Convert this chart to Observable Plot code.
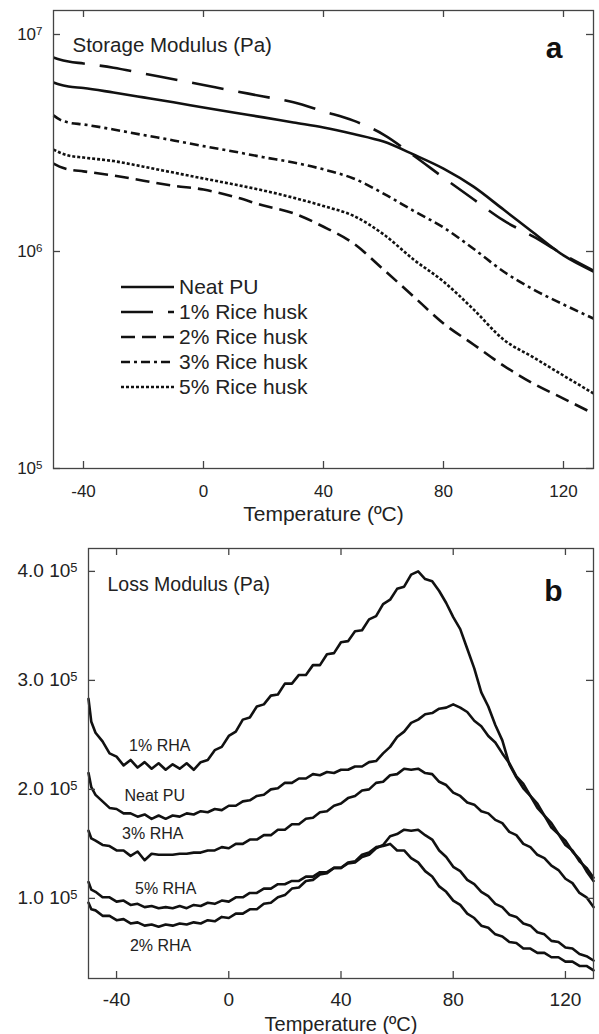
<!DOCTYPE html>
<html><head><meta charset="utf-8">
<script src="https://cdn.jsdelivr.net/npm/d3@7"></script>
<script src="https://cdn.jsdelivr.net/npm/@observablehq/plot@0.6"></script>
<style>
body{margin:0;background:#fff;font-family:"Liberation Sans",Arial,sans-serif;}
#wrap{position:relative;width:599px;height:1034px;overflow:hidden}
#wrap > svg, #wrap figure svg{display:block}
#legend{position:absolute;left:0;top:0}
</style></head><body><div id="wrap"></div>
<script>
// ---------- Panel a: storage modulus (Pa) ----------
const tempA = [-50,-48,-45,-40,-30,-20,-10,0,10,20,30,40,50,60,70,80,90,100,110,120,130];
const neatA = [6.01e6,5.88e6,5.76e6,5.67e6,5.40e6,5.13e6,4.87e6,4.61e6,4.37e6,4.15e6,3.93e6,3.73e6,3.48e6,3.21e6,2.80e6,2.41e6,1.99e6,1.56e6,1.22e6,9.59e5,8.09e5];
const rh1A  = [7.83e6,7.67e6,7.51e6,7.35e6,7.03e6,6.61e6,6.22e6,5.85e6,5.50e6,5.18e6,4.87e6,4.42e6,4.01e6,3.46e6,2.77e6,2.19e6,1.74e6,1.39e6,1.17e6,9.68e5,8.17e5];
const rh2A  = [2.54e6,2.46e6,2.39e6,2.34e6,2.24e6,2.12e6,2.01e6,1.93e6,1.79e6,1.63e6,1.50e6,1.30e6,1.09e6,8.26e5,6.21e5,4.66e5,3.73e5,2.98e5,2.46e5,2.10e5,1.79e5];
const rh3A  = [4.24e6,4.06e6,3.93e6,3.85e6,3.65e6,3.44e6,3.25e6,3.06e6,2.89e6,2.72e6,2.57e6,2.39e6,2.17e6,1.85e6,1.54e6,1.29e6,1.03e6,8.09e5,6.68e5,5.70e5,4.91e5];
const rh5A  = [2.95e6,2.86e6,2.77e6,2.71e6,2.61e6,2.46e6,2.31e6,2.17e6,2.04e6,1.91e6,1.77e6,1.62e6,1.46e6,1.20e6,9.19e5,7.27e5,5.41e5,3.93e5,3.25e5,2.68e5,2.22e5];
const seriesNamesA = ["Neat PU","1% Rice husk","2% Rice husk","3% Rice husk","5% Rice husk"];
const dashesA = [null,"32,15","14,7","9,4,3,4","3,2"];
const xTicks = [-40,0,40,80,120];
const xTickLabels = ["-40","0","40","80","120"];
const yTicksA = [1e5,1e6,1e7];
const yTickLabelsA = ["10\u2075","10\u2076","10\u2077"];

// ---------- Panel b: loss modulus (x 1e5 Pa) ----------
const tempB = [-50,-49,-47.5,-45,-42.5,-40,-37.5,-35,-32.5,-30,
  -27.5,-25,-22.5,-20,-17.5,-15,-12.5,-10,-7.5,-5,
  -2.5,0,2.5,5,7.5,10,12.5,15,17.5,20,
  22.5,25,27.5,30,32.5,35,37.5,40,42.5,45,
  47.5,50,52.5,55,57.5,60,62.5,65,67.5,70,
  72.5,75,77.5,80,82.5,85,87.5,90,92.5,95,
  97.5,100,102.5,105,107.5,110,112.5,115,117.5,120,
  122.5,125,127.5,130];
const rh1B = [2.83,2.62,2.52,2.44,2.33,2.30,2.22,2.27,2.20,2.25,
  2.19,2.24,2.18,2.23,2.19,2.24,2.18,2.25,2.27,2.36,
  2.39,2.49,2.53,2.64,2.66,2.76,2.78,2.86,2.87,2.97,
  2.97,3.05,3.05,3.14,3.14,3.24,3.25,3.35,3.36,3.45,
  3.46,3.56,3.59,3.70,3.74,3.84,3.86,3.97,4.00,3.93,
  3.91,3.82,3.71,3.58,3.47,3.29,3.11,2.89,2.76,2.59,
  2.45,2.23,2.11,2.01,1.94,1.83,1.76,1.65,1.59,1.49,
  1.44,1.34,1.28,1.19];
const neatB = [2.15,2.02,1.95,1.89,1.83,1.82,1.78,1.78,1.75,1.77,
  1.73,1.76,1.73,1.76,1.75,1.78,1.77,1.80,1.79,1.82,
  1.81,1.85,1.85,1.89,1.90,1.94,1.95,2.00,2.01,2.06,
  2.06,2.10,2.10,2.14,2.13,2.16,2.15,2.18,2.18,2.21,
  2.21,2.25,2.26,2.33,2.39,2.48,2.53,2.61,2.64,2.69,
  2.70,2.74,2.75,2.78,2.75,2.71,2.63,2.58,2.49,2.43,
  2.33,2.24,2.12,2.05,1.94,1.87,1.76,1.69,1.59,1.53,
  1.43,1.36,1.25,1.16];
const rh3B = [1.62,1.55,1.53,1.49,1.48,1.44,1.44,1.39,1.43,1.35,
  1.41,1.40,1.40,1.40,1.41,1.41,1.42,1.42,1.44,1.44,
  1.47,1.46,1.50,1.50,1.54,1.54,1.58,1.58,1.63,1.63,
  1.68,1.68,1.73,1.74,1.79,1.80,1.85,1.87,1.92,1.94,
  1.99,2.00,2.06,2.07,2.13,2.14,2.19,2.18,2.19,2.15,
  2.14,2.07,2.04,1.97,1.94,1.88,1.86,1.80,1.78,1.72,
  1.69,1.61,1.58,1.50,1.47,1.40,1.37,1.30,1.26,1.18,
  1.14,1.05,1.01,0.92];
const rh5B = [1.15,1.08,1.06,1.01,1.01,0.97,0.98,0.94,0.95,0.92,
  0.93,0.91,0.92,0.91,0.93,0.91,0.94,0.93,0.96,0.95,
  0.98,0.97,1.01,1.01,1.05,1.05,1.09,1.09,1.13,1.13,
  1.16,1.16,1.20,1.20,1.24,1.24,1.28,1.28,1.32,1.33,
  1.38,1.40,1.46,1.49,1.57,1.59,1.63,1.62,1.63,1.58,
  1.54,1.44,1.38,1.29,1.25,1.17,1.13,1.06,1.02,0.95,
  0.92,0.85,0.83,0.77,0.75,0.69,0.67,0.61,0.60,0.55,
  0.54,0.49,0.47,0.43];
const rh2B = [0.96,0.90,0.89,0.84,0.84,0.80,0.81,0.77,0.78,0.75,
  0.76,0.74,0.76,0.75,0.77,0.76,0.78,0.77,0.80,0.79,
  0.83,0.82,0.86,0.86,0.90,0.90,0.95,0.96,1.01,1.03,
  1.09,1.10,1.16,1.17,1.22,1.23,1.28,1.28,1.33,1.34,
  1.40,1.42,1.47,1.48,1.50,1.44,1.44,1.37,1.33,1.25,
  1.20,1.11,1.06,0.98,0.94,0.86,0.82,0.75,0.73,0.67,
  0.65,0.60,0.59,0.54,0.54,0.50,0.50,0.46,0.46,0.42,
  0.42,0.38,0.38,0.34];
const labelNamesB = ["1% RHA","Neat PU","3% RHA","5% RHA","2% RHA"];
const labelTempB = [-24.6,-26.4,-27.1,-22.5,-24.3];
const labelValB = [2.40,1.94,1.59,1.09,0.56];
const yTicksB = [1,2,3,4];
const yTickLabelsB = ["1.0 10\u2075","2.0 10\u2075","3.0 10\u2075","4.0 10\u2075"];

const FONT = '"Liberation Sans", Arial, Helvetica, sans-serif';
const INK = "#111";
const FRAME = "#444";

function rowsOf(temps, vals, name) { return temps.map((t, i) => ({t, v: vals[i], name})); }
const fmtX = d => xTickLabels[xTicks.indexOf(d)];

// ----- top panel -----
const hA = 530, mtA = 10, mbA = 62, mlA = 53, mrA = 6;
const fwA = 599 - mlA - mrA, fhA = hA - mtA - mbA;
const seriesA = [neatA, rh1A, rh2A, rh3A, rh5A];
const linesA = seriesA.map((vals, k) =>
  Plot.line(rowsOf(tempA, vals, seriesNamesA[k]), {x: "t", y: "v", stroke: INK, strokeWidth: 2.6,
    strokeDasharray: dashesA[k], curve: "monotone-x", strokeLinecap: "butt"}));

const chartA = Plot.plot({
  width: 599, height: hA, marginTop: mtA, marginBottom: mbA, marginLeft: mlA, marginRight: mrA,
  style: {fontFamily: FONT, fontSize: "17px", color: "#222", background: "#fff"},
  x: {domain: [-50, 130], ticks: xTicks, tickFormat: fmtX, tickSize: 0, tickPadding: 16, label: null},
  y: {type: "log", domain: [1e5, 1.29e7], ticks: yTicksA, tickFormat: d => yTickLabelsA[yTicksA.indexOf(d)], tickSize: 0, tickPadding: 11, label: null},
  marks: [
    ...linesA,
    Plot.frame({stroke: FRAME, strokeWidth: 1.3}),
    Plot.tickX(xTicks, {x: d => d, insetTop: fhA - 7, stroke: FRAME, strokeWidth: 1.3}),
    Plot.tickX(xTicks, {x: d => d, insetBottom: fhA - 7, stroke: FRAME, strokeWidth: 1.3}),
    Plot.tickY(yTicksA, {y: d => d, insetRight: fwA - 7, stroke: FRAME, strokeWidth: 1.3}),
    Plot.tickY(yTicksA, {y: d => d, insetLeft: fwA - 7, stroke: FRAME, strokeWidth: 1.3}),
    Plot.text(["Storage Modulus (Pa)"], {frameAnchor: "top-left", dx: 19, dy: 27, textAnchor: "start", fontSize: 20.5, fill: "#222"}),
    Plot.text(["a"], {frameAnchor: "top-right", dx: -31, dy: 26, fontSize: 30, fontWeight: "bold", fill: "#111"}),
    Plot.text(["Temperature (\u00baC)"], {frameAnchor: "bottom", dy: 52, fontSize: 21, fill: "#222"})
  ]
});

// ----- bottom panel -----
const hB = 504, mtB = 18, mbB = 56, mlB = 88, mrB = 6;
const fwB = 599 - mlB - mrB, fhB = hB - mtB - mbB;
const seriesB = [rh1B, neatB, rh3B, rh5B, rh2B];
const linesB = seriesB.map((vals, k) =>
  Plot.line(rowsOf(tempB, vals, labelNamesB[k]), {x: "t", y: "v", stroke: INK, strokeWidth: 2.6, strokeLinejoin: "round"}));

const chartB = Plot.plot({
  width: 599, height: hB, marginTop: mtB, marginBottom: mbB, marginLeft: mlB, marginRight: mrB,
  style: {fontFamily: FONT, fontSize: "19px", color: "#222", background: "#fff"},
  x: {domain: [-50, 130], ticks: xTicks, tickFormat: fmtX, tickSize: 0, tickPadding: 14, label: null},
  y: {domain: [0.265, 4.21], ticks: yTicksB, tickFormat: d => yTickLabelsB[yTicksB.indexOf(d)], tickSize: 0, tickPadding: 11, label: null},
  marks: [
    ...linesB,
    Plot.frame({stroke: FRAME, strokeWidth: 1.3}),
    Plot.tickX(xTicks, {x: d => d, insetTop: fhB - 7, stroke: FRAME, strokeWidth: 1.3}),
    Plot.tickX(xTicks, {x: d => d, insetBottom: fhB - 7, stroke: FRAME, strokeWidth: 1.3}),
    Plot.tickY(yTicksB, {y: d => d, insetRight: fwB - 7, stroke: FRAME, strokeWidth: 1.3}),
    Plot.tickY(yTicksB, {y: d => d, insetLeft: fwB - 7, stroke: FRAME, strokeWidth: 1.3}),
    Plot.text(labelNamesB, {x: (d, i) => labelTempB[i], y: (d, i) => labelValB[i], text: d => d, fontSize: 16, fill: "#222"}),
    Plot.text(["Loss Modulus (Pa)"], {frameAnchor: "top-left", dx: 19, dy: 29, textAnchor: "start", fontSize: 19.5, fill: "#222"}),
    Plot.text(["b"], {frameAnchor: "top-right", dx: -31, dy: 31, fontSize: 30, fontWeight: "bold", fill: "#111"}),
    Plot.text(["Temperature (\u00baC)"], {frameAnchor: "bottom", dy: 52, fontSize: 20, fill: "#222"})
  ]
});

// Render exponent characters of tick labels as proper raised superscripts
const supMap = {"\u2075": "5", "\u2076": "6", "\u2077": "7"};
function fixSuperscripts(svg) {
  svg.querySelectorAll("text").forEach(node => {
    const s = node.textContent;
    const m = s.match(/^(.*)([\u2075\u2076\u2077])\s*$/);
    if (!m) return;
    const el = d3.select(node);
    const x = node.getAttribute("x");
    el.selectAll("*").remove();
    node.textContent = "";
    el.append("tspan").text(m[1]);
    el.append("tspan").attr("dy", "-0.45em").attr("font-size", "0.68em").text(supMap[m[2]]);
  });
}
fixSuperscripts(chartA);
fixSuperscripts(chartB);

const wrap = document.getElementById("wrap");
wrap.appendChild(chartA);
wrap.appendChild(chartB);

// ----- legend for panel a (overlay inside the plot frame) -----
const legendRows = [287, 312, 337, 362, 387];
const leg = d3.select(wrap).append("svg").attr("id", "legend").attr("width", 599).attr("height", hA);
seriesNamesA.forEach((name, k) => {
  const g = leg.append("g").attr("transform", `translate(0,${legendRows[k]})`);
  g.append("line").attr("x1", 121).attr("x2", 174).attr("y1", 0).attr("y2", 0)
    .attr("stroke", INK).attr("stroke-width", 2.6).attr("stroke-dasharray", dashesA[k] || null);
  g.append("text").attr("x", 179).attr("y", 0).attr("dy", "0.35em").text(name)
    .attr("font-family", FONT).attr("font-size", 21).attr("fill", "#222");
});
</script>
</body></html>
